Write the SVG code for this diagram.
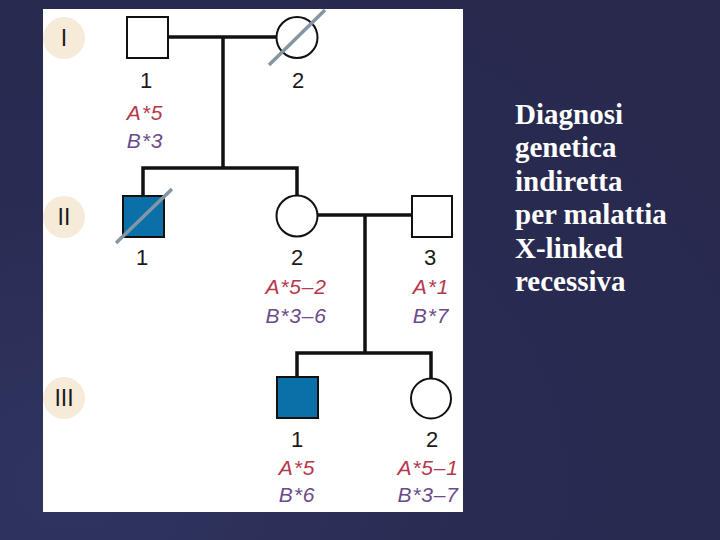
<svg xmlns="http://www.w3.org/2000/svg" width="720" height="540" viewBox="0 0 720 540">
  <defs>
    <radialGradient id="bg" cx="0.1" cy="0.9" r="1.1">
      <stop offset="0" stop-color="#2f3560"/>
      <stop offset="0.5" stop-color="#2a2b53"/>
      <stop offset="1" stop-color="#28294d"/>
    </radialGradient>
    <style>
      .ind { fill: #ffffff; stroke: #111111; stroke-width: 2; }
      .aff { fill: #0b70a8; stroke: #111111; stroke-width: 2; }
      .strike { stroke: #8396a4; stroke-width: 3.5; stroke-linecap: butt; }
      .conn { fill: none; stroke: #111111; stroke-width: 3.5; }
      .num { font-family: "Liberation Sans", Arial, sans-serif; font-size: 22px; fill: #1a1a1a; text-anchor: middle; }
      .a { font-family: "Liberation Sans", Arial, sans-serif; font-size: 21px; font-style: italic; fill: #b5374c; text-anchor: middle; letter-spacing: 0.8px; }
      .b { font-family: "Liberation Sans", Arial, sans-serif; font-size: 21px; font-style: italic; fill: #6a4a8a; text-anchor: middle; letter-spacing: 0.8px; }
      .gen { fill: #f6ead8; }
      .gent { font-family: "Liberation Sans", Arial, sans-serif; font-size: 23px; fill: #1a1a1a; text-anchor: middle; }
      .title { font-family: "Liberation Serif", "Times New Roman", serif; font-size: 29px; font-weight: bold; fill: #ffffff; }
    </style>
  </defs>
  <rect x="0" y="0" width="720" height="540" fill="url(#bg)"/>
  <rect x="43" y="9" width="420" height="503" fill="#ffffff"/>

  <g id="generations">
    <circle class="gen" cx="64" cy="38" r="21"/>
    <text class="gent" x="64" y="46">I</text>
    <circle class="gen" cx="64" cy="217" r="21"/>
    <text class="gent" x="64" y="225">II</text>
    <circle class="gen" cx="64" cy="398" r="21"/>
    <text class="gent" x="64" y="406">III</text>
  </g>

  <g id="connectors">
    <path class="conn" d="M168 37 H277"/>
    <path class="conn" d="M223 37 V168"/>
    <path class="conn" d="M143 196 V168 H297 V195"/>
    <path class="conn" d="M317 215 H412"/>
    <path class="conn" d="M365 215 V353"/>
    <path class="conn" d="M297 377 V353 H431 V378"/>
  </g>

  <g id="I-1">
    <rect class="ind" x="127" y="17" width="41" height="41"/>
    <text class="num" x="146" y="88">1</text>
    <text class="a" x="145" y="120">A*5</text>
    <text class="b" x="145" y="148">B*3</text>
  </g>
  <g id="I-2">
    <circle class="ind" cx="297" cy="37.5" r="20.5"/>
    <line class="strike" x1="269" y1="65" x2="325" y2="10"/>
    <text class="num" x="298" y="88">2</text>
  </g>
  <g id="II-1">
    <rect class="aff" x="123" y="196" width="41" height="41"/>
    <line class="strike" x1="116" y1="243" x2="172" y2="189"/>
    <text class="num" x="142" y="265">1</text>
  </g>
  <g id="II-2">
    <circle class="ind" cx="297" cy="216" r="20.5"/>
    <text class="num" x="297" y="265">2</text>
    <text class="a" x="296" y="294">A*5–2</text>
    <text class="b" x="296" y="323">B*3–6</text>
  </g>
  <g id="II-3">
    <rect class="ind" x="412" y="196" width="40" height="41"/>
    <text class="num" x="430" y="265">3</text>
    <text class="a" x="431" y="294">A*1</text>
    <text class="b" x="431" y="323">B*7</text>
  </g>
  <g id="III-1">
    <rect class="aff" x="277" y="377" width="41" height="41"/>
    <text class="num" x="297" y="447">1</text>
    <text class="a" x="297" y="475">A*5</text>
    <text class="b" x="297" y="502">B*6</text>
  </g>
  <g id="III-2">
    <circle class="ind" cx="431" cy="398.5" r="20"/>
    <text class="num" x="432" y="447">2</text>
    <text class="a" x="428" y="475">A*5–1</text>
    <text class="b" x="428" y="502">B*3–7</text>
  </g>

  <g id="title">
    <text class="title" x="515" y="124">Diagnosi</text>
    <text class="title" x="515" y="157">genetica</text>
    <text class="title" x="515" y="191">indiretta</text>
    <text class="title" x="515" y="224">per malattia</text>
    <text class="title" x="515" y="258">X-linked</text>
    <text class="title" x="515" y="291">recessiva</text>
  </g>
</svg>
